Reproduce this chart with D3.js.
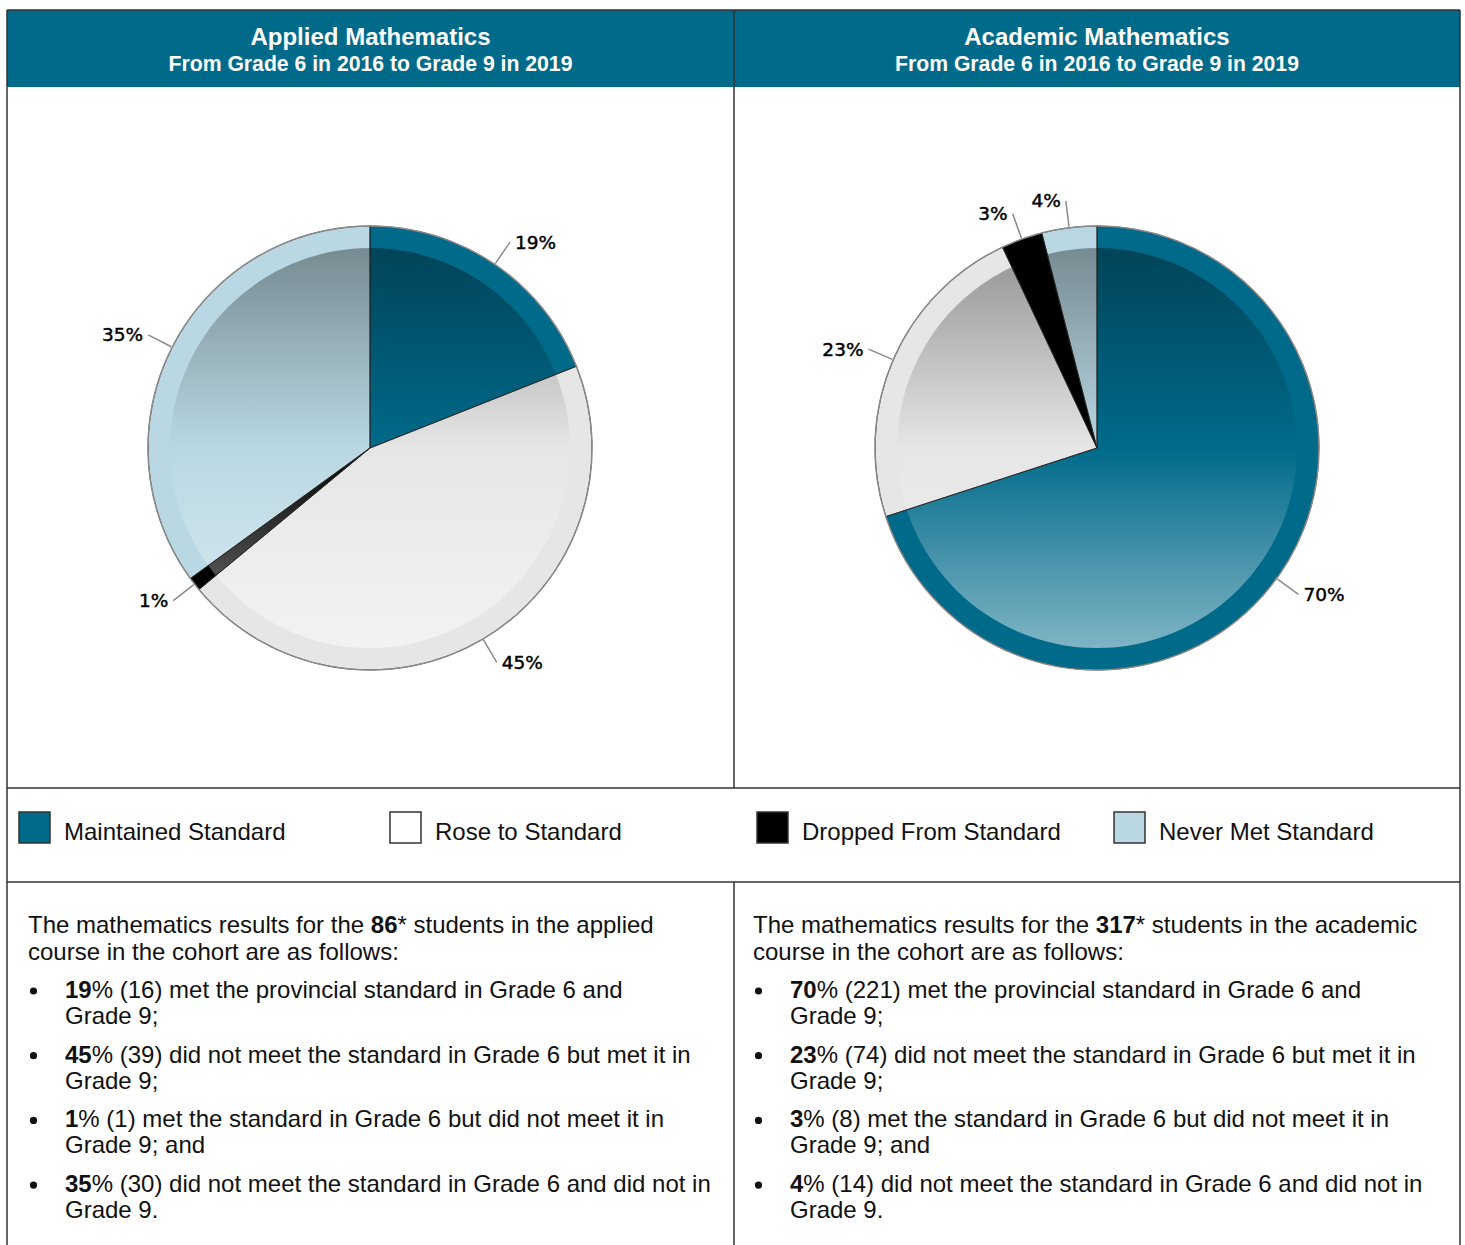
<!DOCTYPE html>
<html>
<head>
<meta charset="utf-8">
<script src="https://cdn.jsdelivr.net/npm/d3@7"></script>
<style>
    body{margin:0;background:#fff;}
    svg{display:block;}
    text{font-family:"Liberation Sans",Arial,sans-serif;}
</style>
</head>
<body>
<div id="chart"></div>
<script>
var categories = ["Maintained Standard","Rose to Standard","Dropped From Standard","Never Met Standard"],
    applied_pct = [19,45,1,35],
    academic_pct = [70,23,3,4],
    applied_counts = [16,39,1,30],
    academic_counts = [221,74,8,14],
    slice_colors = ["#006a8a","#e6e6e6","#000000","#b9d8e3"],
    legend_colors = ["#006a8a","#ffffff","#000000","#b9d8e3"],
    titles = ["Applied Mathematics","Academic Mathematics"],
    subtitle = "From Grade 6 in 2016 to Grade 9 in 2019",
    totals = ["86","317"],
    courses = ["applied","academic"],
    bullet_lines = [
        ["met the provincial standard in Grade 6 and","Grade 9;"],
        ["did not meet the standard in Grade 6 but met it in","Grade 9;"],
        ["met the standard in Grade 6 but did not meet it in","Grade 9; and"],
        ["did not meet the standard in Grade 6 and did not in","Grade 9."]
    ];

var W = 1465, H = 1245,
    x_left = 7, x_right = 1460, x_mid = 734, y_top = 10,
    header_h = 77, pie_bottom = 788, legend_bottom = 882,
    R = 222, R_inner = 200,
    body_size = 24;

var svg = d3.select("#chart").append("svg").attr("width",W).attr("height",H);
var defs = svg.append("defs");

// shading laid over the inner part of the pie
var grad = defs.append("linearGradient").attr("id","shade")
    .attr("x1",0).attr("y1",0).attr("x2",0).attr("y2",1);
grad.append("stop").attr("offset","0%").attr("stop-color","#000").attr("stop-opacity",0.36);
grad.append("stop").attr("offset","50%").attr("stop-color","#000").attr("stop-opacity",0);
grad.append("stop").attr("offset","50%").attr("stop-color","#fff").attr("stop-opacity",0);
grad.append("stop").attr("offset","100%").attr("stop-color","#fff").attr("stop-opacity",0.5);

function drawHeader(i){
    var x0 = i==0 ? x_left : x_mid, x1 = i==0 ? x_mid : x_right;
    svg.append("rect").attr("x",x0).attr("y",y_top).attr("width",x1-x0).attr("height",header_h)
        .attr("fill","#006a8a");
    var cx = (x0+x1)/2;
    svg.append("text").attr("x",cx).attr("y",45).attr("text-anchor","middle")
        .attr("fill","#fff").attr("font-weight","bold").attr("font-size",24)
        .text(titles[i]);
    svg.append("text").attr("x",cx).attr("y",71).attr("text-anchor","middle")
        .attr("fill","#fff").attr("font-weight","bold").attr("font-size",21.2)
        .text(subtitle);
}

function drawPie(values,cx,cy){
    var g = svg.append("g").attr("transform","translate("+cx+","+cy+")");
    var pie = d3.pie().sort(null).value(function(d){return d;});
    var arcs = pie(values);
    var arc = d3.arc().innerRadius(0).outerRadius(R);
    var lineIn = d3.arc().innerRadius(R+1).outerRadius(R+1),
        lineOut = d3.arc().innerRadius(R+27).outerRadius(R+27);

    g.selectAll("path.fill").data(arcs).enter().append("path")
        .attr("class","fill")
        .attr("d",arc)
        .attr("fill",function(d,i){return slice_colors[i];});

    g.append("circle").attr("r",R_inner).attr("fill","url(#shade)");

    g.selectAll("path.edge").data(arcs).enter().append("path")
        .attr("class","edge")
        .attr("d",arc)
        .attr("fill","none")
        .attr("stroke","#222")
        .attr("stroke-width",0.8);

    g.append("circle").attr("r",R).attr("fill","none")
        .attr("stroke","#8a8a8a").attr("stroke-width",1.5);

    arcs.forEach(function(d){
        var a = lineIn.centroid(d), b = lineOut.centroid(d);
        var mid_angle = (d.startAngle+d.endAngle)/2;
        var on_left = mid_angle > Math.PI;
        g.append("line")
            .attr("x1",a[0]).attr("y1",a[1]).attr("x2",b[0]).attr("y2",b[1])
            .attr("stroke","#8a8a8a").attr("stroke-width",1.5);
        g.append("text")
            .attr("x",b[0]+(on_left?-5:5)).attr("y",b[1])
            .attr("dy","0.35em")
            .attr("text-anchor",on_left?"end":"start")
            .style("font-family","'DejaVu Sans',sans-serif")
            .attr("font-size",18.5)
            .attr("fill","#000")
            .attr("stroke","#000").attr("stroke-width",0.45)
            .text(d.data+"%");
    });
}

function drawLegend(){
    var xs = [19,390,757,1114];
    categories.forEach(function(c,i){
        svg.append("rect").attr("x",xs[i]).attr("y",812).attr("width",31).attr("height",31)
            .attr("fill",legend_colors[i]).attr("stroke","#333").attr("stroke-width",1.5);
        svg.append("text").attr("x",xs[i]+45).attr("y",840)
            .attr("font-size",24).attr("fill","#111")
            .text(c);
    });
}

function drawText(i,pct,counts){
    var x0 = i==0 ? 28 : 753;
    var t = svg.append("text").attr("x",x0).attr("y",933).attr("font-size",body_size).attr("fill","#111");
    t.append("tspan").text("The mathematics results for the ");
    t.append("tspan").attr("font-weight","bold").text(totals[i]);
    t.append("tspan").text("* students in the "+courses[i]);
    svg.append("text").attr("x",x0).attr("y",960).attr("font-size",body_size).attr("fill","#111")
        .text("course in the cohort are as follows:");

    pct.forEach(function(p,j){
        var y = 998 + j*64.7;
        svg.append("circle").attr("cx",x0+5.5).attr("cy",y-7).attr("r",3.6).attr("fill","#111");
        var line = svg.append("text").attr("x",x0+37).attr("y",y).attr("font-size",body_size).attr("fill","#111");
        line.append("tspan").attr("font-weight","bold").text(p);
        line.append("tspan").text("% ("+counts[j]+") "+bullet_lines[j][0]);
        svg.append("text").attr("x",x0+37).attr("y",y+26).attr("font-size",body_size).attr("fill","#111")
            .text(bullet_lines[j][1]);
    });
}

function drawGrid(){
    var grid = svg.append("g").attr("stroke","#333").attr("stroke-width",1.5).attr("fill","none");
    grid.append("line").attr("x1",x_left).attr("y1",y_top).attr("x2",x_right).attr("y2",y_top);
    grid.append("line").attr("x1",x_left).attr("y1",y_top).attr("x2",x_left).attr("y2",H);
    grid.append("line").attr("x1",x_right).attr("y1",y_top).attr("x2",x_right).attr("y2",H);
    grid.append("line").attr("x1",x_mid).attr("y1",y_top).attr("x2",x_mid).attr("y2",pie_bottom);
    grid.append("line").attr("x1",x_mid).attr("y1",legend_bottom).attr("x2",x_mid).attr("y2",H);
    grid.append("line").attr("x1",x_left).attr("y1",pie_bottom).attr("x2",x_right).attr("y2",pie_bottom);
    grid.append("line").attr("x1",x_left).attr("y1",legend_bottom).attr("x2",x_right).attr("y2",legend_bottom);
}

drawHeader(0);
drawHeader(1);
drawPie(applied_pct,370,448);
drawPie(academic_pct,1097,448);
drawLegend();
drawText(0,applied_pct,applied_counts);
drawText(1,academic_pct,academic_counts);
drawGrid();
</script>
</body>
</html>
